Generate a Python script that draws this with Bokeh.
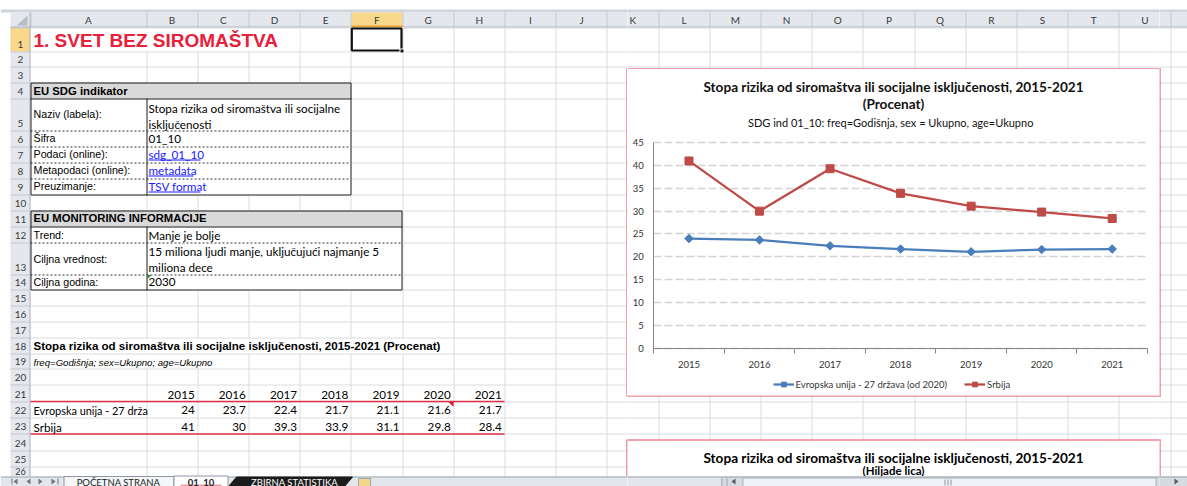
from bokeh.plotting import figure
from bokeh.layouts import row, column
from bokeh.models import Range1d, Label, Legend, LegendItem, FixedTicker, SingleIntervalTicker, Grid
from bokeh.core.properties import value
from bokeh.embed import file_html
from bokeh.resources import INLINE

# ---------------- data ----------------
years = [2015, 2016, 2017, 2018, 2019, 2020, 2021]
eu_values = [24, 23.7, 22.4, 21.7, 21.1, 21.6, 21.7]
rs_values = [41, 30, 39.3, 33.9, 31.1, 29.8, 28.4]
eu_label = "Evropska unija - 27 država (od 2020)"
eu_label_cell = "Evropska unija - 27 drža"
rs_label = "Srbija"
chart_title = "Stopa rizika od siromaštva ili socijalne isključenosti, 2015-2021"
chart_unit = "(Procenat)"
chart2_unit = "(Hiljade lica)"
chart_subtitle = "SDG ind 01_10: freq=Godišnja,  sex = Ukupno,  age=Ukupno"
y_max = 45
y_step = 5

sheet_title = "1. SVET BEZ SIROMAŠTVA"
col_letters = ["A", "B", "C", "D", "E", "F", "G", "H", "I", "J", "K", "L", "M",
               "N", "O", "P", "Q", "R", "S", "T", "U", "V"]
row_numbers = [str(i) for i in range(1, 27)]
info_header = "EU SDG indikator"
info_labels = ["Naziv (labela):", "Šifra", "Podaci (online):", "Metapodaci (online):", "Preuzimanje:"]
info_values = [["Stopa rizika od siromaštva ili socijalne", "isključenosti"], ["01_10"],
               ["sdg_01_10"], ["metadata"], ["TSV format"]]
mon_header = "EU MONITORING INFORMACIJE"
mon_labels = ["Trend:", "Ciljna vrednost:", "Ciljna godina:"]
mon_values = [["Manje je bolje"], ["15 miliona ljudi manje, uključujući najmanje 5", "miliona dece"], ["2030"]]
table_title = "Stopa rizika od siromaštva ili socijalne isključenosti, 2015-2021 (Procenat)"
table_sub = "freq=Godišnja; sex=Ukupno; age=Ukupno"
sheet_tabs = ["POČETNA STRANA", "01_10", "ZBIRNA STATISTIKA"]

# ---------------- styling / geometry of the sheet (screen layout) ----------------
ARIAL = "Liberation Sans"
CAL = "Lato"
W, H = 1187, 486
col_edges = [30, 146] + [146 + 51.2 * k for k in range(1, 22)]
row_edges = [27, 51, 66.5, 82, 98, 130, 146, 162, 178, 194, 210, 226, 242, 274, 289.5,
             305, 321, 337, 353, 368.5, 384.5, 401, 417, 433, 450, 466, 482]
SB = 476  # top of the tab / scroll bar
GRID = "#DADCDD"
HDR = "#E4E8ED"
HDR_LINE = "#C3C9D1"
GOLD = "#F8D88A"
RED = "#E0304A"
CHART_BORDER = "#E5455C"
CALS = "11.7px"


def snap(v):
    return int(v) + 0.5


texts = []


def T(x, y, s, font=ARIAL, size="10.7px", style="normal", color="#000000", align="left"):
    texts.append((x, y, s, font, size, style, color, align))


for i, c in enumerate(col_letters):
    T((col_edges[i] + col_edges[i + 1]) / 2, 19.5, c, CAL, "10px", "normal", "#3A3A3A", "center")
for i, r in enumerate(row_numbers):
    yy = min(row_edges[i + 1] - 7.5, 471)
    T(20, yy, r, CAL, "10px" if i < 25 else "9px", "normal", "#3A3A3A", "center")

T(33, 40, sheet_title, ARIAL, "19px", "bold", "#E8203A")
T(33, 90.5, info_header, ARIAL, "11.3px", "bold")
info_rows = [(98, 130), (130, 146), (146, 162), (162, 178), (178, 194)]
for k, ((a, b), lab, vals) in enumerate(zip(info_rows, info_labels, info_values)):
    T(33, (a + b) / 2 - 0.5, lab, ARIAL, "10.7px")
    link = k >= 2
    if len(vals) == 2:
        T(148, a + 9.3, vals[0], CAL, CALS)
        T(148, a + 25.3, vals[1], CAL, CALS)
    else:
        T(148, (a + b) / 2 - 0.5, vals[0], CAL, CALS, "normal", "#1A1AFF" if link else "#000000")

T(33, 217.5, mon_header, ARIAL, "11.3px", "bold")
mon_rows = [(226, 242), (242, 274), (274, 289.5)]
for (a, b), lab, vals in zip(mon_rows, mon_labels, mon_values):
    T(33, (a + b) / 2, lab, ARIAL, "10.7px")
    if len(vals) == 2:
        T(148, a + 8.5, vals[0], CAL, CALS)
        T(148, a + 24, vals[1], CAL, CALS)
    else:
        T(148, (a + b) / 2, vals[0], CAL, CALS)

T(33, 345, table_title, ARIAL, "11.55px", "bold")
T(33, 361.5, table_sub, ARIAL, "9.6px", "italic")
for i, yv in enumerate(years):
    xr = col_edges[i + 2] - 3
    T(xr, 394, str(yv), CAL, CALS, "normal", "#000000", "right")
    T(xr, 409.5, f"{eu_values[i]:g}", CAL, CALS, "normal", "#000000", "right")
    T(xr, 426, f"{rs_values[i]:g}", CAL, CALS, "normal", "#000000", "right")
T(33, 409.5, eu_label_cell, CAL, "10.9px")
T(33, 426, rs_label, CAL, CALS)

# second chart (partly visible)
T(893, 457, chart_title, CAL, "13.6px", "bold", "#000000", "center")
T(893, 469.5, chart2_unit, CAL, "11.5px", "bold", "#000000", "center")

# sheet tabs
tab_spans = [(63, 173), (173, 228), (228, 352)]
tab_text = []
for (a, b), s, k in zip(tab_spans, sheet_tabs, range(3)):
    tab_text.append(((a + b) / 2 + (4 if k == 2 else 0), 481.5, s, CAL, "9.5px",
                     "bold" if k == 1 else "normal", "#FFFFFF" if k == 2 else "#222222", "center"))


def draw_sheet(f, x0, x1, y0, y1):
    f.quad(left=[0], right=[W], top=[9], bottom=[12], fill_color="#D0D5DC", line_color=None)
    f.quad(left=[10], right=[W], top=[12], bottom=[27], fill_color=HDR, line_color=None)
    f.quad(left=[10], right=[30], top=[27], bottom=[SB], fill_color=HDR, line_color=None)
    f.quad(left=[col_edges[5]], right=[col_edges[6]], top=[12], bottom=[27], fill_color=GOLD, line_color=None)
    f.quad(left=[10], right=[30], top=[27], bottom=[51], fill_color=GOLD, line_color=None)
    xs = [snap(e) for e in col_edges]
    f.segment(x0=xs, y0=[12] * len(xs), x1=xs, y1=[27] * len(xs), line_color=HDR_LINE)
    ys = [snap(e) for e in row_edges]
    f.segment(x0=[10] * len(ys), y0=ys, x1=[30] * len(ys), y1=ys, line_color=HDR_LINE)
    f.segment(x0=[10], y0=[26.5], x1=[W], y1=[26.5], line_color="#AEB5BE")
    f.segment(x0=[29.5], y0=[12], x1=[29.5], y1=[SB], line_color="#AEB5BE")
    f.segment(x0=[col_edges[5]], y0=[26], x1=[col_edges[6]], y1=[26], line_color="#E8A33A", line_width=2)
    f.patch(x=[16, 27, 27], y=[25, 25, 15], fill_color="#B5BCC6", line_color=None)
    # gridlines
    xs2 = xs[1:]
    f.segment(x0=xs2, y0=[27] * len(xs2), x1=xs2, y1=[SB] * len(xs2), line_color=GRID)
    f.quad(left=[31, 31, 31], right=[299, 452, 247], top=[28, 338, 354], bottom=[51, 353, 368.5],
           fill_color="white", line_color=None)
    f.segment(x0=[30] * len(ys), y0=ys, x1=[W] * len(ys), y1=ys, line_color=GRID)
    # info tables
    for (l, r, t, b, hb) in [(30, 351, 82, 195, 98), (30, 402, 210, 290, 226)]:
        f.quad(left=[l], right=[r], top=[t], bottom=[b], fill_color="white", line_color=None)
        f.quad(left=[l], right=[r], top=[t], bottom=[hb], fill_color="#D9D9D9", line_color=None)
        f.quad(left=[l + 0.5], right=[r - 0.5], top=[t + 0.5], bottom=[b - 0.5], fill_color=None,
               line_color="#1A1A1A", line_width=1)
        f.segment(x0=[l], y0=[hb + 0.5], x1=[r], y1=[hb + 0.5], line_color="#1A1A1A")
        f.segment(x0=[146.5], y0=[hb], x1=[146.5], y1=[b], line_color="#1A1A1A")
    dy = [130.5, 146.5, 162.5, 178.5]
    f.segment(x0=[30] * 4, y0=dy, x1=[350] * 4, y1=dy, line_color="#333333", line_dash="2 2")
    dy2 = [242.5, 274.5]
    f.segment(x0=[30] * 2, y0=dy2, x1=[401] * 2, y1=dy2, line_color="#333333", line_dash="2 2")
    f.segment(x0=[148, 148, 148], y0=[159.5, 175.5, 191.5], x1=[200, 193, 200],
              y1=[159.5, 175.5, 191.5], line_color="#1A1AFF")
    f.patch(x=[147, 151, 147], y=[274.5, 274.5, 278.5], fill_color="#1E8C32", line_color=None)
    f.patch(x=[448, 453, 453], y=[401.5, 401.5, 406.5], fill_color="#E0102A", line_color=None)
    f.segment(x0=[30, 30], y0=[401, 433.5], x1=[504, 504], y1=[401, 433.5], line_color=RED, line_width=1.6)
    # selected cell F1
    f.quad(left=[col_edges[5] + 0.5], right=[col_edges[6] - 1], top=[28], bottom=[50], fill_color=None,
           line_color="#111111", line_width=2.2)
    f.quad(left=[399.5], right=[403.5], top=[48.5], bottom=[52.5], fill_color="#111111", line_color="white")
    # chart frames
    f.quad(left=[627], right=[1159], top=[440], bottom=[SB], fill_color="white", line_color=None)
    f.segment(x0=[626.5, 1159.5, 626.5, 626.5, 1159.5, 626.5, 626.5],
              y0=[68, 68, 68.5, 439, 439, 439.5, 395.5],
              x1=[626.5, 1159.5, 1160, 626.5, 1159.5, 1160, 1160],
              y1=[396, 396, 68.5, SB, SB, 439.5, 395.5], line_color=CHART_BORDER)
    for (x, y, s, font, size, style, color, align) in texts:
        if x0 <= x <= x1 and y0 <= y <= y1:
            f.text(x=[x], y=[y], text=[s], text_font=value(font), text_font_size=size,
                   text_font_style=style, text_color=color, text_align=align, text_baseline="middle")
    # bottom bar: sheet tabs + horizontal scrollbar
    f.quad(left=[0], right=[W], top=[SB], bottom=[H], fill_color="#E3E7EC", line_color=None)
    f.quad(left=[720], right=[W], top=[SB], bottom=[H], fill_color="#D6DBE2", line_color=None)
    f.segment(x0=[0], y0=[SB + 0.5], x1=[W], y1=[SB + 0.5], line_color="#9DA5B0")
    f.patches(xs=[[13, 17, 17], [26, 30, 30], [42, 38, 38], [55, 51, 51]],
              ys=[[481, 478, 484], [481, 478, 484], [481, 478, 484], [481, 478, 484]],
              fill_color="#6B7480", line_color=None)
    f.segment(x0=[11.5, 57.5], y0=[478, 478], x1=[11.5, 57.5], y1=[484, 484], line_color="#6B7480")
    f.quad(left=[63.5], right=[173.5], top=[SB], bottom=[H], fill_color="#F4F6F9", line_color="#8D96A2")
    f.quad(left=[173.5], right=[227.5], top=[SB - 0.5], bottom=[H], fill_color="#FFFFFF", line_color="#8D96A2")
    f.segment(x0=[180], y0=[485], x1=[221], y1=[485], line_color="#E8A0A8", line_width=2)
    f.patch(x=[228, 236, 352, 344], y=[H, SB + 0.5, SB + 0.5, H], fill_color="#1C1C1C", line_color="#1C1C1C")
    f.quad(left=[358], right=[370], top=[478], bottom=[H], fill_color="#F2D68A", line_color="#A0A8B2")
    f.quad(left=[742.5], right=[1155.5], top=[477.5], bottom=[H], fill_color="#EEF1F5", line_color="#A9B2BD")
    f.segment(x0=[944.5, 947.5, 950.5], y0=[479, 479, 479], x1=[944.5, 947.5, 950.5], y1=[485, 485, 485],
              line_color="#8D96A2")
    f.segment(x0=[721.5, 726.5], y0=[478, 478], x1=[721.5, 726.5], y1=[486, 486], line_color="#9DA5B0")
    f.patches(xs=[[731, 735, 735], [1178, 1174, 1174]], ys=[[481, 478, 484], [481, 478, 484]],
              fill_color="#505A66", line_color=None)
    for (x, y, s, font, size, style, color, align) in tab_text:
        if x0 <= x <= x1 and y0 <= y <= y1:
            f.text(x=[x], y=[y], text=[s], text_font=value(font), text_font_size=size,
                   text_font_style=style, text_color=color, text_align=align, text_baseline="middle")


def tile(x0, x1, y0, y1):
    f = figure(width=int(x1 - x0), height=int(y1 - y0), x_range=Range1d(x0, x1), y_range=Range1d(y1, y0),
               output_backend="svg", toolbar_location=None, min_border=0, outline_line_color=None,
               x_axis_type=None, y_axis_type=None, background_fill_color="white", border_fill_color="white")
    draw_sheet(f, x0, x1, y0, y1)
    return f


CX0, CX1, CY0, CY1 = 627, 1159, 69, 395
left_tile = tile(0, CX0, 0, H)
right_tile = tile(CX1, W, 0, H)
top_tile = tile(CX0, CX1, 0, CY0)
bottom_tile = tile(CX0, CX1, CY1, H)

# ---------------- the chart ----------------
BLUE = "#4A7EBB"
SRED = "#BE4B48"
CW, CH = CX1 - CX0, CY1 - CY0
PL, PR = 653.2 - CX0, 1147.0 - CX0      # plot-area edges inside the chart box (px)
PT, PB = 142.2 - CY0, 347.6 - CY0
xs0, xs1 = years[0] - 0.5, years[-1] + 0.5
kx = (xs1 - xs0) / (PR - PL)
ky = y_max / (PB - PT)
xr = Range1d(xs0 - PL * kx, xs1 + (CW - PR) * kx)
yr = Range1d(0 - (CH - PB) * ky, y_max + PT * ky)


def px2x(px):
    return xr.start + px * kx


def py2y(py):
    return yr.end - py * ky


p = figure(width=CW, height=CH, x_range=xr, y_range=yr, output_backend="svg", toolbar_location=None,
           min_border=0, outline_line_color=None, background_fill_color="white", border_fill_color="white")

p.xaxis.fixed_location = 0
p.xaxis.bounds = (xs0, xs1)
p.xaxis.ticker = FixedTicker(ticks=years, minor_ticks=[y - 0.5 for y in years] + [xs1])
p.xaxis.major_tick_line_color = None
p.xaxis.major_tick_out = 0
p.xaxis.major_tick_in = 0
p.xaxis.minor_tick_line_color = "#868686"
p.xaxis.minor_tick_in = 0
p.xaxis.minor_tick_out = 5
p.xaxis.major_label_standoff = 8
p.yaxis.fixed_location = xs0
p.yaxis.bounds = (0, y_max)
p.yaxis.ticker = SingleIntervalTicker(interval=y_step, num_minor_ticks=0)
p.yaxis.major_tick_line_color = None
p.yaxis.minor_tick_line_color = None
p.yaxis.major_tick_out = 0
p.yaxis.major_tick_in = 0
p.yaxis.major_label_standoff = 10
for ax in p.axis:
    ax.axis_line_color = "#868686"
    ax.major_label_text_font = CAL
    ax.major_label_text_font_size = "9.5px"
    ax.major_label_text_color = "#333333"
p.xgrid.grid_line_color = None
p.ygrid.ticker = SingleIntervalTicker(interval=y_step, num_minor_ticks=0)
p.ygrid.bounds = (0, y_max)
if "cross_bounds" in Grid.properties():
    p.ygrid.cross_bounds = (xs0, xs1)
p.ygrid.grid_line_color = "#D4D4D4"
p.ygrid.grid_line_dash = "8 3"
p.ygrid.grid_line_width = 1.5

l1 = p.line(years, eu_values, line_color=BLUE, line_width=2.25)
s1 = p.scatter(years, eu_values, marker="square", size=6, angle=0.785398, fill_color=BLUE, line_color=BLUE)
l2 = p.line(years, rs_values, line_color=SRED, line_width=2.25)
s2 = p.scatter(years, rs_values, marker="square", size=8, fill_color=SRED, line_color=SRED)

cx = px2x(893 - CX0)
for txt, yy, size, style in [(chart_title, 86.7, "13.6px", "bold"), (chart_unit, 103.8, "13.6px", "bold"),
                             (chart_subtitle, 121.8, "11px", "normal")]:
    p.add_layout(Label(x=cx, y=py2y(yy - CY0), text=txt, text_align="center", text_baseline="middle",
                       text_font=CAL, text_font_style=style, text_font_size=size, text_color="#111111"))

legend = Legend(items=[LegendItem(label=eu_label, renderers=[l1, s1]),
                       LegendItem(label=rs_label, renderers=[l2, s2])],
                location=(772.5 - CX0, CH - (384.4 - CY0) - 6), orientation="horizontal", padding=0, margin=0,
                spacing=17, glyph_width=21, glyph_height=12, label_standoff=2, border_line_color=None,
                background_fill_alpha=0, label_text_font=CAL, label_text_font_size="9.5px",
                label_text_color="#333333", label_height=12)
p.add_layout(legend)

layout = row(left_tile, column(top_tile, p, bottom_tile, spacing=0), right_tile, spacing=0)

open("out.html", "w").write(file_html(layout, INLINE))
